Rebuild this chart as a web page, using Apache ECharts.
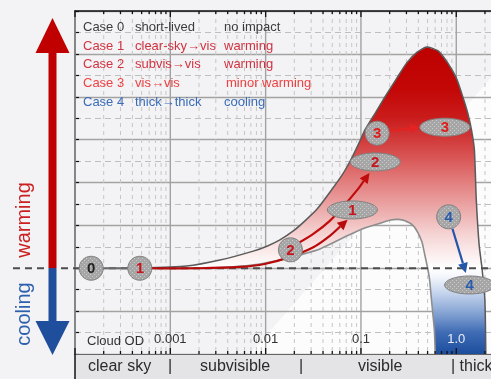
<!DOCTYPE html>
<html><head><meta charset="utf-8">
<script src="https://cdn.jsdelivr.net/npm/echarts@6/dist/echarts.min.js"></script>
<style>html,body{margin:0;padding:0;background:#f3f3f5;}#c{width:491px;height:379px;}</style>
</head><body><div id="c"></div>
<script>
// ---------------- data (x = log10 cloud optical depth, y = radiative impact) ----------------
const odTickValues = [-3, -2, -1, 0];
const odTickLabels = ['0.001', '0.01', '0.1', '1.0'];
const decadesLog = [-4, -3, -2, -1, 0];
const minorMultipliers = [2, 3, 4, 5, 6, 7, 8, 9];

const upperEdge = [[-3.32,0],[-2.83,0.05],[-2.48,0.19],[-2.13,0.40],[-1.98,0.52],[-1.85,0.66],[-1.71,0.87],
  [-1.59,1.10],[-1.46,1.38],[-1.33,1.76],[-1.19,2.20],[-1.09,2.60],[-1.01,2.97],[-0.96,3.22],[-0.85,3.62],
  [-0.75,3.99],[-0.63,4.41],[-0.52,4.79],[-0.41,5.04],[-0.31,5.16],[-0.19,5.07],[-0.09,4.79],[0.00,4.44],
  [0.07,3.99],[0.12,3.62],[0.16,3.22],[0.19,2.76],[0.21,1.59],[0.24,0.54],[0.27,0],[0.30,-0.74],[0.31,-2.0]];
const lowerEdge = [[-3.32,0],[-2.69,0],[-2.37,0.03],[-2.06,0.10],[-1.85,0.19],[-1.64,0.31],[-1.43,0.45],
  [-1.15,0.75],[-0.96,0.94],[-0.80,1.05],[-0.70,1.12],[-0.61,1.14],[-0.53,1.10],[-0.45,0.99],[-0.40,0.82],
  [-0.36,0.61],[-0.33,0.31],[-0.30,0],[-0.28,-0.27],[-0.26,-0.74],[-0.23,-1.44],[-0.22,-2.0]];

const stateLabels = ['0', '1', '2', '1', '2', '3', '3', '4', '4'];
const stateX = [-3.83, -3.32, -1.74, -1.09, -0.85, -0.83, -0.12, -0.08, 0.14];
const stateY = [0, 0, 0.43, 1.36, 2.48, 3.15, 3.29, 1.20, -0.39];
const stateKind = ['circle', 'circle', 'circle', 'ellipse', 'ellipse', 'circle', 'ellipse', 'circle', 'ellipse'];

const connectorPath = [[-3.83,0],[-3.32,0]];
const case1Path = [[-3.32,0],[-2.69,0],[-2.27,0.03],[-2.01,0.10],[-1.75,0.26],[-1.50,0.49],[-1.33,0.75],[-1.14,1.13]];
const case2Path = [[-1.85,0.36],[-1.67,0.57],[-1.50,0.80],[-1.33,1.10],[-1.17,1.48],[-1.03,1.85],[-0.91,2.22]];
const case3Path = [[-0.71,3.20],[-0.38,3.29]];
const case4Path = [[-0.04,0.92],[0.10,-0.11]];

const legendCases = ['Case 0', 'Case 1', 'Case 2', 'Case 3', 'Case 4'];
const legendTransitions = ['short-lived', 'clear-sky\u2192vis', 'subvis\u2192vis', 'vis\u2192vis', 'thick\u2192thick'];
const legendImpacts = ['no impact', 'warming', 'warming', 'minor warming', 'cooling'];
const regimeLabels = ['clear sky', '|', 'subvisible', '|', 'visible', '| thick'];
const axisTitle = 'Cloud OD';
const sideLabels = ['warming', 'cooling'];

// ---------------- styling ----------------
const FONT = "'Liberation Sans', Arial, sans-serif";
const Y_MIN = -2, Y_MAX = 6, X_MIN = -4, X_MAX = 0.7;
const caseColors = ['#3c3c3c', '#d23341', '#d23341', '#ee4242', '#3a6cb8'];
const numColors = ['#222222', '#c8141c', '#c8141c', '#e01c1c', '#2a5cae'];
const pathColors = ['#6a6a6a', '#b80a0a', '#c00c0c', '#e52222', '#2456aa'];
const fillStops = [[5.2,'#bd0000'],[4.2,'#c30606'],[3.5,'#ca1c1c'],[3.0,'#d23a3a'],[2.5,'#da5b5b'],
  [2.0,'#e37f7f'],[1.4,'#eca8a8'],[0.8,'#f5d3d3'],[0.3,'#fcefef'],[0,'#ffffff'],[-0.2,'#f3f6fc'],
  [-0.6,'#c2d2ec'],[-1.1,'#7d9dd0'],[-1.5,'#3f6bb4'],[-2.0,'#1c4e9e']];

const ticks = [];
decadesLog.forEach(d => {
  ticks.push([d, 1]);
  minorMultipliers.forEach(m => { const v = d + Math.log10(m); if (v <= X_MAX) ticks.push([v, 0]); });
});

const pc = document.createElement('canvas'); pc.width = 4; pc.height = 4;
const g2 = pc.getContext('2d');
g2.fillStyle = '#a6a6a6'; g2.fillRect(0, 0, 4, 4);
g2.fillStyle = '#c9c9c9'; g2.fillRect(0, 0, 1, 1); g2.fillRect(2, 2, 1, 1);
const dotPattern = { image: pc, repeat: 'repeat' };

const chart = echarts.init(document.getElementById('c'));

function arrowGroup(pts, color, width, head) {
  const n = pts.length;
  const p2 = pts[n - 1], p1 = pts[n - 2];
  let dx = p2[0] - p1[0], dy = p2[1] - p1[1];
  const L = Math.sqrt(dx * dx + dy * dy); dx /= L; dy /= L;
  const bx = p2[0] - dx * head, by = p2[1] - dy * head;
  const w = head * 0.5;
  const line = pts.slice(0, n - 1).concat([[bx, by]]);
  return [
    { type: 'polyline', shape: { points: line, smooth: 0.3 }, style: { stroke: color, lineWidth: width, fill: null } },
    { type: 'polygon', shape: { points: [p2, [bx - dy * w, by + dx * w], [bx + dy * w, by - dx * w]] }, style: { fill: color } }
  ];
}

const option = {
  backgroundColor: '#f3f3f5',
  animation: false,
  grid: { left: 75, right: -32, top: 11, bottom: 25, outerBoundsMode: 'none', containLabel: false },
  xAxis: [{
    type: 'value', min: X_MIN, max: X_MAX, interval: 1, position: 'bottom', z: 4,
    axisLine: { show: true, onZero: false, lineStyle: { color: '#555', width: 1 } },
    axisTick: { show: false }, splitLine: { show: false },
    axisLabel: {
      inside: true, margin: 8, fontSize: 13, fontFamily: FONT,
      color: v => (Math.abs(v) < 1e-9 ? '#e9eef8' : '#333'),
      formatter: v => { const i = odTickValues.findIndex(t => Math.abs(t - v) < 1e-9); return i >= 0 ? odTickLabels[i] : ''; }
    }
  }, {
    type: 'value', min: X_MIN, max: X_MAX, interval: 1, position: 'top', z: 4,
    axisLine: { show: true, onZero: false, lineStyle: { color: '#111', width: 1.5 } },
    axisTick: { show: false }, splitLine: { show: false }, axisLabel: { show: false }
  }],
  yAxis: {
    type: 'value', min: Y_MIN, max: Y_MAX, interval: 1, position: 'left',
    axisLine: { show: true, onZero: false, lineStyle: { color: '#111', width: 1.5 } },
    axisTick: { show: true, inside: true, length: 4, lineStyle: { color: '#111', width: 1.2 } },
    minorTick: { show: true, splitNumber: 2, length: 4, lineStyle: { color: '#111', width: 1.2 } },
    axisLabel: { show: false },
    splitLine: { show: true, lineStyle: { color: '#a2a2a2', width: 1.4 } },
    minorSplitLine: { show: true, lineStyle: { color: '#bfbfbf', width: 1, type: [6, 4] } }
  },
  series: [
    { // vertical grid lines (log decades and minors)
      type: 'custom', name: 'vgrid', z: 0.5, silent: true, data: ticks,
      renderItem: (p, api) => {
        const x = api.value(0), major = api.value(1) === 1;
        const a = api.coord([x, Y_MAX]), b = api.coord([x, Y_MIN]);
        return { type: 'line', shape: { x1: a[0], y1: a[1], x2: b[0], y2: b[1] },
          style: major ? { stroke: '#a2a2a2', lineWidth: 1.4 } : { stroke: '#c6c6c6', lineWidth: 1, lineDash: [4, 4] } };
      }
    },
    { // impact region
      type: 'custom', name: 'region', z: 1, silent: true, data: [[0, 0]],
      renderItem: (p, api) => {
        const up = upperEdge.map(d => api.coord(d));
        const lo = lowerEdge.map(d => api.coord(d));
        const yT = api.coord([0, Y_MAX])[1], yB = api.coord([0, Y_MIN])[1];
        const stops = fillStops.map(s => ({ offset: (Y_MAX - s[0]) / (Y_MAX - Y_MIN), color: s[1] }));
        return { type: 'group', children: [
          { type: 'polygon', shape: { points: up.concat(lo.slice(1).reverse()) },
            style: { fill: { type: 'linear', x: 0, y: yT, x2: 0, y2: yB, global: true, colorStops: stops } } },
          { type: 'polyline', shape: { points: lo, smooth: 0.2 }, style: { stroke: '#8e8e8e', lineWidth: 1.6, fill: null } },
          { type: 'polyline', shape: { points: up, smooth: 0.2 }, style: { stroke: '#5a5a5a', lineWidth: 1.5, fill: null } }
        ] };
      }
    },
    { // axis ticks (top and bottom)
      type: 'custom', name: 'ticks', z: 4, silent: true, data: ticks,
      renderItem: (p, api) => {
        const x = api.value(0), len = api.value(1) === 1 ? 6 : 3;
        const a = api.coord([x, Y_MAX]), b = api.coord([x, Y_MIN]);
        return { type: 'group', children: [
          { type: 'line', shape: { x1: b[0], y1: b[1], x2: b[0], y2: b[1] - len }, style: { stroke: '#111', lineWidth: 1.3 } },
          { type: 'line', shape: { x1: a[0], y1: a[1], x2: a[0], y2: a[1] + len }, style: { stroke: '#111', lineWidth: 1.3 } }
        ] };
      }
    },
    { // transition paths
      type: 'custom', name: 'paths', z: 5, silent: true, data: [[0, 0], [1, 0], [2, 0], [3, 0], [4, 0]],
      renderItem: (p, api) => {
        const i = p.dataIndex;
        if (i === 0) {
          const pts = connectorPath.map(d => api.coord(d));
          return { type: 'polyline', shape: { points: pts }, style: { stroke: pathColors[0], lineWidth: 2, fill: null } };
        }
        const path = [null, case1Path, case2Path, case3Path, case4Path][i];
        const pts = path.map(d => api.coord(d));
        return { type: 'group', children: arrowGroup(pts, pathColors[i], 2.2, 10) };
      }
    },
    { // cloud states
      type: 'custom', name: 'states', z: 6, silent: true,
      data: stateX.map((x, i) => [x, stateY[i]]),
      renderItem: (p, api) => {
        const i = p.dataIndex;
        const c = api.coord([api.value(0), api.value(1)]);
        const isC = stateKind[i] === 'circle';
        const ci = parseInt(stateLabels[i], 10);
        return { type: 'group', children: [
          { type: 'ellipse', shape: { cx: c[0], cy: c[1], rx: isC ? 12 : 25, ry: isC ? 12 : 9 },
            style: { fill: dotPattern, stroke: '#808080', lineWidth: 1 } },
          { type: 'text', x: c[0], y: c[1] + 1,
            style: { text: stateLabels[i], fill: numColors[ci], font: 'bold 15px ' + FONT,
              align: 'center', verticalAlign: 'middle', textAlign: 'center', textVerticalAlign: 'middle' } }
        ] };
      }
    }
  ]
};
chart.setOption(option);

const y0 = chart.convertToPixel({ gridIndex: 0 }, [0, 0])[1];
const graphics = [];
function txt(t, x, y, color, size, extra) {
  return Object.assign({ type: 'text', x: x, y: y, z: 20,
    style: { text: t, fill: color, font: size + 'px ' + FONT, align: 'left', verticalAlign: 'middle', textAlign: 'left', textVerticalAlign: 'middle' } }, extra || {});
}
// background shine
graphics.push({ type: 'polygon', z: -1, silent: true, shape: { points: [[250, 354], [491, 78], [491, 354]] }, style: { fill: 'rgba(255,255,255,0.75)' } });
// zero line
graphics.push({ type: 'line', z: 3, silent: true, shape: { x1: 13, y1: y0, x2: 491, y2: y0 }, style: { stroke: '#4d4d4d', lineWidth: 2, lineDash: [7, 5] } });
// side arrows
graphics.push({ type: 'rect', z: 7, shape: { x: 48.5, y: 50, width: 8, height: y0 - 50 }, style: { fill: '#c00000' } });
graphics.push({ type: 'polygon', z: 7, shape: { points: [[52.5, 18], [35.5, 53], [69.5, 53]] }, style: { fill: '#c00000' } });
graphics.push({ type: 'rect', z: 7, shape: { x: 48.5, y: y0, width: 8, height: 323 - y0 }, style: { fill: '#1f4e9c' } });
graphics.push({ type: 'polygon', z: 7, shape: { points: [[35.5, 321], [69.5, 321], [52.5, 355]] }, style: { fill: '#1f4e9c' } });
graphics.push(txt(sideLabels[0], 24, 220, '#cc1f1f', 20, { rotation: Math.PI / 2 }));
graphics[graphics.length - 1].style.align = 'center'; graphics[graphics.length - 1].style.textAlign = 'center';
graphics.push(txt(sideLabels[1], 24, 314, '#2d5fae', 20, { rotation: Math.PI / 2 }));
graphics[graphics.length - 1].style.align = 'center'; graphics[graphics.length - 1].style.textAlign = 'center';
// legend
const rowY = [27, 46, 64.5, 83, 102];
legendCases.forEach((t, i) => {
  graphics.push(txt(t, 83, rowY[i], caseColors[i], 13));
  graphics.push(txt(legendTransitions[i], 135, rowY[i], caseColors[i], 13));
  graphics.push(txt(legendImpacts[i], i === 3 ? 226 : 224, rowY[i], caseColors[i], 13));
});
graphics.push(txt(axisTitle, 87, 341, '#333', 13));
// regime band
graphics.push({ type: 'rect', z: 10, shape: { x: 75, y: 354, width: 420, height: 25 }, style: { fill: '#e4e4e6' } });
graphics.push({ type: 'line', z: 11, shape: { x1: 75, y1: 354.5, x2: 491, y2: 354.5 }, style: { stroke: '#666', lineWidth: 1 } });
graphics.push({ type: 'line', z: 11, shape: { x1: 75, y1: 354, x2: 75, y2: 379 }, style: { stroke: '#111', lineWidth: 1.5 } });
const bandX = [88, 168, 200, 299, 358, 451];
regimeLabels.forEach((t, i) => graphics.push(txt(t, bandX[i], 367, '#2b2b2b', 16)));
chart.setOption({ graphic: { elements: graphics } });
</script></body></html>
